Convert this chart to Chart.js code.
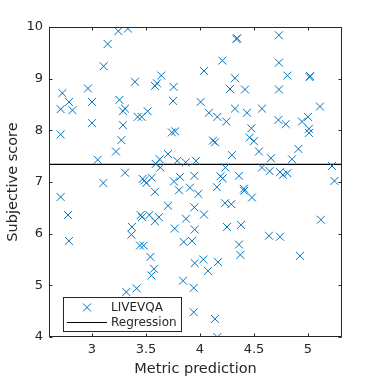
<!DOCTYPE html>
<html>
<head>
<meta charset="utf-8">
<script src="https://cdn.jsdelivr.net/npm/chart.js@4.4.1/dist/chart.umd.min.js"></script>
<style>
  html, body { margin: 0; padding: 0; background: #fff; }
  canvas { display: block; }
</style>
</head>
<body>
<canvas id="scatterChart" width="378" height="378"></canvas>
<script>
// metric prediction vs subjective score
const predX = [
    3.244, 3.333, 3.145, 3.108, 3.642, 3.398, 3.602, 3.583, 3.756, 2.963,
    2.726, 2.787, 3.000, 3.254, 3.751, 2.710, 2.819, 3.306, 3.287, 3.516,
    3.423, 3.460, 3.000, 3.287,
    2.710, 3.740, 3.770, 3.272, 3.222, 3.704, 3.053, 3.627, 3.590, 3.633,
    3.790, 3.868, 3.963, 3.306, 3.105, 3.469, 3.485, 3.503, 3.553, 3.815,
    3.759, 3.948, 3.806, 3.583, 3.907, 2.710, 3.704, 3.948, 2.778, 3.451,
    3.463, 3.531, 3.620, 3.583, 3.870, 3.370, 3.766, 3.951,
    2.787, 3.365, 3.444, 3.479, 3.541, 3.574, 3.550, 3.849, 3.926, 3.951,
    3.843, 3.942, 3.414, 3.318, 3.942,
    5.009, 5.009, 4.120, 4.140, 4.460, 4.500, 4.296, 4.546, 4.657, 4.911,
    4.852, 4.235, 4.574, 4.645, 4.741, 4.769, 4.809, 5.222, 5.245, 4.190,
    4.210, 4.361, 4.157, 4.407, 4.410, 4.481, 3.985, 4.232, 4.290, 4.037,
    5.120, 4.250, 4.380,
    4.639, 4.741, 4.361, 4.374, 4.926, 4.031, 4.167, 4.074, 4.139, 4.161,
    4.337, 4.345, 4.731, 4.207, 4.731, 4.037, 4.324, 4.809, 5.015, 5.020,
    4.278, 4.417, 4.731, 4.006, 4.083, 4.161, 4.244, 4.324, 4.435, 4.574,
    4.726, 4.794, 4.944, 5.000, 5.111, 4.476
];
const scoreY = [
    9.92, 9.97, 9.67, 9.24, 9.06, 8.94, 8.91, 8.86, 8.84, 8.81,
    8.72, 8.55, 8.55, 8.59, 8.57, 8.41, 8.39, 8.42, 8.37, 8.37,
    8.26, 8.26, 8.14, 8.10,
    7.92, 7.96, 7.98, 7.81, 7.59, 7.54, 7.43, 7.44, 7.35, 7.28,
    7.41, 7.38, 7.41, 7.18, 6.98, 7.06, 7.03, 6.98, 7.08, 7.10,
    7.01, 7.12, 6.84, 6.81, 6.89, 6.71, 6.54, 6.51, 6.36, 6.36,
    6.32, 6.36, 6.32, 6.24, 6.29, 6.13, 6.10, 6.08,
    5.86, 5.98, 5.77, 5.77, 5.55, 5.32, 5.19, 5.84, 5.86, 5.43,
    5.09, 4.95, 4.94, 4.87, 4.48,
    8.03, 7.95, 7.80, 7.77, 7.86, 7.79, 7.52, 7.59, 7.46, 7.64,
    7.44, 7.28, 7.28, 7.21, 7.19, 7.14, 7.17, 7.31, 7.02, 7.11,
    7.07, 7.12, 6.90, 6.87, 6.83, 6.70, 6.77, 6.59, 6.57, 6.37,
    6.27, 6.13, 6.17,
    5.96, 5.94, 5.79, 5.59, 5.57, 5.50, 5.45, 5.28, 4.35, 4.00,
    9.77, 9.78, 9.84, 9.35, 9.31, 9.15, 9.01, 9.06, 9.03, 9.05,
    8.80, 8.79, 8.79, 8.55, 8.34, 8.26, 8.17, 8.42, 8.34, 8.42,
    8.20, 8.12, 8.17, 8.26, 8.46, 8.04
];

// regression line end points (flat fit)
const regX = [2.602, 5.315];
const regY = [7.34, 7.34];

const xTicks = [3, 3.5, 4, 4.5, 5];
const yTicks = [4, 5, 6, 7, 8, 9, 10];
const seriesNames = ['LIVEVQA', 'Regression'];

const axisColor = '#262626';
const markerColor = '#0072BD';
const fontFamily = '"DejaVu Sans", sans-serif';

// box round the axes with inward ticks, like the original
const axesBox = {
    id: 'axesBox',
    afterDatasetsDraw(chart) {
        const { ctx, chartArea: a, scales } = chart;
        const L = Math.round(a.left) + 0.5, R = Math.round(a.right) - 0.5;
        const T = Math.round(a.top) + 0.5, B = Math.round(a.bottom) - 0.5;
        ctx.save();
        ctx.strokeStyle = axisColor;
        ctx.lineWidth = 1;
        ctx.strokeRect(L, T, R - L, B - T);
        ctx.beginPath();
        xTicks.forEach(v => {
            const px = Math.round(scales.x.getPixelForValue(v)) + 0.5;
            ctx.moveTo(px, B); ctx.lineTo(px, B - 3);
            ctx.moveTo(px, T); ctx.lineTo(px, T + 3);
        });
        yTicks.forEach(v => {
            const py = Math.round(scales.y.getPixelForValue(v)) + 0.5;
            ctx.moveTo(L, py); ctx.lineTo(L + 3, py);
            ctx.moveTo(R, py); ctx.lineTo(R - 3, py);
        });
        ctx.stroke();
        ctx.restore();
    },
    afterDraw(chart) {
        // legend box, lower left inside the axes
        const { ctx } = chart;
        const x0 = 63.5, y0 = 297.5, w = 118, h = 34;
        ctx.save();
        ctx.fillStyle = '#fff';
        ctx.fillRect(x0, y0, w, h);
        ctx.strokeStyle = axisColor;
        ctx.lineWidth = 1;
        ctx.strokeRect(x0, y0, w, h);

        const row1 = 307.5, row2 = 322.5;
        const d = 4;
        ctx.strokeStyle = markerColor;
        ctx.beginPath();
        ctx.moveTo(87 - d, row1 - d); ctx.lineTo(87 + d, row1 + d);
        ctx.moveTo(87 - d, row1 + d); ctx.lineTo(87 + d, row1 - d);
        ctx.stroke();

        ctx.strokeStyle = '#000';
        ctx.beginPath();
        ctx.moveTo(67, row2); ctx.lineTo(107, row2);
        ctx.stroke();

        ctx.fillStyle = axisColor;
        ctx.font = '12px ' + fontFamily;
        ctx.textBaseline = 'middle';
        ctx.fillText(seriesNames[0], 111, row1);
        ctx.fillText(seriesNames[1], 111, row2);
        ctx.restore();
    }
};

const ctx = document.getElementById('scatterChart').getContext('2d');
new Chart(ctx, {
    type: 'scatter',
    data: {
        datasets: [{
            label: seriesNames[0],
            data: predX.map((x, i) => ({ x: x, y: scoreY[i] })),
            pointStyle: 'crossRot',
            pointRadius: 5.6,
            pointHoverRadius: 5.6,
            borderColor: markerColor,
            backgroundColor: markerColor,
            borderWidth: 1
        }, {
            type: 'line',
            label: seriesNames[1],
            data: regX.map((x, i) => ({ x: x, y: regY[i] })),
            borderColor: '#000',
            borderWidth: 1.2,
            pointRadius: 0,
            fill: false
        }]
    },
    options: {
        responsive: false,
        animation: false,
        devicePixelRatio: 1,
        layout: { padding: { top: 27, right: 36, left: 0, bottom: 0 } },
        plugins: {
            legend: { display: false },
            tooltip: { enabled: false }
        },
        scales: {
            x: {
                type: 'linear',
                min: 2.602,
                max: 5.315,
                afterBuildTicks: scale => { scale.ticks = xTicks.map(v => ({ value: v })); },
                afterFit: scale => { scale.height = 41; },
                grid: { display: false, drawTicks: false },
                border: { display: false },
                ticks: {
                    color: axisColor,
                    font: { family: fontFamily, size: 13 },
                    padding: 5,
                    maxRotation: 0,
                    autoSkip: false,
                    callback: v => String(v)
                },
                title: {
                    display: true,
                    text: 'Metric prediction',
                    color: axisColor,
                    font: { family: fontFamily, size: 14.5 },
                    padding: { top: 0, bottom: 0 }
                }
            },
            y: {
                min: 4,
                max: 10,
                afterBuildTicks: scale => { scale.ticks = yTicks.map(v => ({ value: v })); },
                afterFit: scale => { scale.width = 49; },
                grid: { display: false, drawTicks: false },
                border: { display: false },
                ticks: {
                    color: axisColor,
                    font: { family: fontFamily, size: 13 },
                    padding: 6,
                    callback: v => String(v)
                },
                title: {
                    display: true,
                    text: 'Subjective score',
                    color: axisColor,
                    font: { family: fontFamily, size: 14.5 },
                    padding: { top: 5, bottom: 0 }
                }
            }
        }
    },
    plugins: [axesBox]
});
</script>
</body>
</html>
